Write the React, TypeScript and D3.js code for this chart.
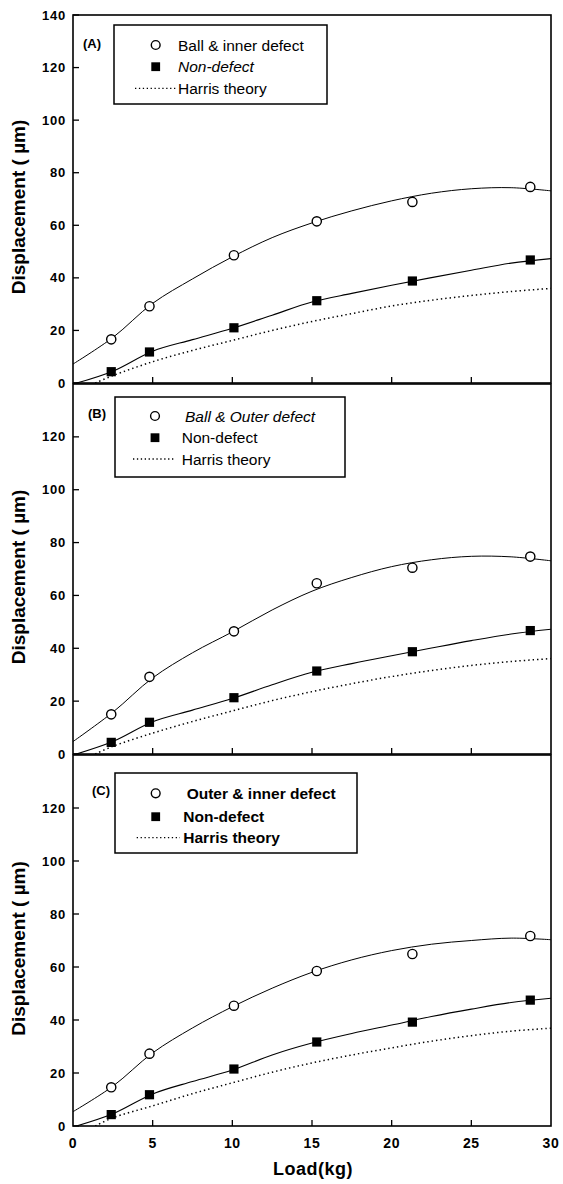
import React from "react";
import * as d3 from "d3";

// Loads (kg) at which displacement was measured
const loads = [2.4, 4.8, 10.1, 15.3, 21.3, 28.7];

// Measured displacement (µm)
const ballInnerDefect = [16.6, 29.2, 48.6, 61.5, 68.9, 74.6];
const nonDefectA = [4.3, 11.8, 21.0, 31.3, 38.8, 46.8];
const ballOuterDefect = [15.0, 29.2, 46.4, 64.6, 70.5, 74.7];
const nonDefectB = [4.4, 12.0, 21.3, 31.4, 38.7, 46.7];
const outerInnerDefect = [14.6, 27.3, 45.4, 58.5, 64.9, 71.7];
const nonDefectC = [4.3, 11.8, 21.5, 31.7, 39.2, 47.5];

// Fitted curves, sampled along the load axis
const fitLoads = [0, 2.5, 5, 7.5, 10, 12.5, 15, 17.5, 20, 22.5, 25, 27.5, 30];
const fitBallInner = [7.2, 17.3, 30.3, 39.6, 48.0, 55.3, 60.9, 65.5, 69.3, 72.2, 73.9, 74.3, 73.1];
const fitNonA = [-0.4, 4.5, 12.1, 16.5, 20.8, 25.8, 30.8, 34.1, 37.2, 40.1, 42.9, 45.6, 47.3];
const fitBallOuter = [4.7, 15.8, 28.8, 38.3, 46.2, 54.5, 61.6, 66.8, 70.9, 73.5, 74.8, 74.6, 73.1];
const fitNonB = [-0.4, 4.7, 12.2, 16.6, 21.0, 26.2, 30.9, 34.2, 37.2, 40.1, 42.9, 45.4, 47.2];
const fitOuterInner = [5.4, 15.0, 27.6, 37.0, 45.0, 52.0, 58.0, 62.7, 66.2, 68.6, 70.0, 70.9, 70.3];
const fitNonC = [-0.4, 4.6, 12.1, 16.8, 21.1, 26.8, 31.3, 34.9, 38.1, 41.3, 44.1, 46.6, 48.2];

// Harris theory prediction
const harrisLoads = [1.4, 2.5, 5, 7.5, 10, 12.5, 15, 17.5, 20, 22.5, 25, 27.5, 30];
const harrisA = [0, 2.8, 8.1, 12.4, 16.2, 20.0, 23.4, 26.4, 29.3, 31.5, 33.3, 34.8, 36.0];
const harrisB = [0, 2.9, 7.9, 12.3, 16.3, 20.2, 23.6, 26.6, 29.3, 31.6, 33.5, 35.0, 36.1];
const harrisC = [0, 3.1, 7.6, 12.2, 16.3, 20.3, 23.8, 26.8, 29.5, 32.0, 34.1, 35.8, 36.9];

// Axis ticks
const xTicks = [0, 5, 10, 15, 20, 25, 30];
const yTicks = [0, 20, 40, 60, 80, 100, 120, 140];

const tags = ["(A)", "(B)", "(C)"];
const defectLabels = ["Ball & inner defect", "Ball & Outer defect", "Outer & inner defect"];
const nonDefectLabel = "Non-defect";
const harrisLabel = "Harris theory";

const FONT = "'Liberation Sans', Arial, Helvetica, sans-serif";
const plotLeft = 73;
const plotRight = 551;

// panel frames and legend layout
const frames = [
  { top: 15, bottom: 383 },
  { top: 384, bottom: 754 },
  { top: 755, bottom: 1126 },
];
const legends = [
  { x0: 114, x1: 327, y0: 25, y1: 104, tagX: 83, tagY: 43, rows: [45, 66.7, 88.3], mx: 155.7, tx: [178, 178, 178], lx0: 135, lx1: 177, styles: ["normal", "italic", "normal"] },
  { x0: 115, x1: 345, y0: 397, y1: 477, tagX: 88, tagY: 413, rows: [416, 437.7, 459], mx: 155, tx: [185, 181.7, 181.7], lx0: 133, lx1: 175, styles: ["italic", "normal", "normal"] },
  { x0: 115, x1: 357, y0: 773, y1: 853, tagX: 92, tagY: 790, rows: [793.3, 816.7, 837.7], mx: 155.7, tx: [186.7, 183.3, 183.3], lx0: 136.7, lx1: 180, styles: ["normal", "normal", "normal"] },
];

const panelData = [
  { defect: ballInnerDefect, non: nonDefectA, fitD: fitBallInner, fitN: fitNonA, harris: harrisA },
  { defect: ballOuterDefect, non: nonDefectB, fitD: fitBallOuter, fitN: fitNonB, harris: harrisB },
  { defect: outerInnerDefect, non: nonDefectC, fitD: fitOuterInner, fitN: fitNonC, harris: harrisC },
];

export default function App() {
  const x = d3.scaleLinear().domain([0, 30]).range([plotLeft, plotRight]);

  return (
    <svg width={563} height={1184} style={{ display: "block", position: "absolute", left: 0, top: 0, background: "#fff" }}>
      <rect x={0} y={0} width={563} height={1184} fill="#fff" />
      {panelData.map((p, i) => {
        const f = frames[i];
        const lg = legends[i];
        const y = d3.scaleLinear().domain([0, 140]).range([f.bottom, f.top]);
        const line = d3
          .line<number>()
          .x((_, k) => x(fitLoads[k]))
          .y((v) => y(v))
          .curve(d3.curveCatmullRom);
        const hLine = d3
          .line<number>()
          .x((_, k) => x(harrisLoads[k]))
          .y((v) => y(v))
          .curve(d3.curveCatmullRom);
        const clipId = `clip-${i}`;
        const showTicks = i === 0 ? yTicks : yTicks.slice(0, -1);
        const midY = (f.top + f.bottom) / 2 + 8;
        return (
          <g key={i}>
            <defs>
              <clipPath id={clipId}>
                <rect x={plotLeft} y={f.top} width={plotRight - plotLeft} height={f.bottom - f.top} />
              </clipPath>
            </defs>
            {/* curves */}
            <g clipPath={`url(#${clipId})`} fill="none" stroke="#000">
              <path d={line(p.fitD) || ""} strokeWidth={1} />
              <path d={line(p.fitN) || ""} strokeWidth={1.1} />
              <path d={hLine(p.harris) || ""} strokeWidth={1.5} strokeDasharray="1.4,3" />
            </g>
            {/* markers */}
            {p.defect.map((v, k) => (
              <circle key={`c${k}`} cx={x(loads[k])} cy={y(v)} r={4.6} fill="#fff" stroke="#000" strokeWidth={1.4} />
            ))}
            {p.non.map((v, k) => (
              <rect key={`s${k}`} x={x(loads[k]) - 4.6} y={y(v) - 4.6} width={9.2} height={9.2} fill="#000" />
            ))}
            {/* frame */}
            <rect x={plotLeft} y={f.top} width={plotRight - plotLeft} height={f.bottom - f.top} fill="none" stroke="#000" strokeWidth={1.6} />
            {/* y ticks */}
            {showTicks.map((t) => (
              <g key={`yt${t}`}>
                <line x1={plotLeft} x2={plotLeft + 6} y1={y(t)} y2={y(t)} stroke="#000" strokeWidth={1.3} />
                <text x={66} y={y(t)} textAnchor="end" dominantBaseline="central" fontFamily={FONT} fontWeight="bold" fontSize={13} letterSpacing={0.8}>
                  {t}
                </text>
              </g>
            ))}
            {/* x ticks */}
            {xTicks.slice(1, -1).map((t) => (
              <line key={`xt${t}`} x1={x(t)} x2={x(t)} y1={f.bottom} y2={f.bottom - 6} stroke="#000" strokeWidth={1.3} />
            ))}
            {/* y title */}
            <text
              transform={`translate(25,${midY}) rotate(-90)`}
              textAnchor="middle"
              fontFamily={FONT}
              fontWeight="bold"
              fontSize={19}
            >
              {"Displacement (  \u00b5m)"}
            </text>
            {/* legend */}
            <rect x={lg.x0} y={lg.y0} width={lg.x1 - lg.x0} height={lg.y1 - lg.y0} fill="#fff" stroke="#000" strokeWidth={1.5} />
            <text x={lg.tagX} y={lg.tagY} dominantBaseline="central" fontFamily={FONT} fontWeight="bold" fontSize={13}>
              {tags[i]}
            </text>
            <circle cx={lg.mx} cy={lg.rows[0]} r={4.4} fill="#fff" stroke="#000" strokeWidth={1.4} />
            <rect x={lg.mx - 4.4} y={lg.rows[1] - 4.4} width={8.8} height={8.8} fill="#000" />
            <line x1={lg.lx0} x2={lg.lx1} y1={lg.rows[2]} y2={lg.rows[2]} stroke="#000" strokeWidth={1.3} strokeDasharray="1.3,2.6" />
            {[defectLabels[i], nonDefectLabel, harrisLabel].map((s, k) => (
              <text
                key={`lt${k}`}
                x={lg.tx[k]}
                y={lg.rows[k]}
                dominantBaseline="central"
                fontFamily={FONT}
                fontSize={15.5}
                fontStyle={lg.styles[k]}
                fontWeight={i === 2 ? 600 : "normal"}
              >
                {s}
              </text>
            ))}
          </g>
        );
      })}
      {/* bottom x labels */}
      {xTicks.map((t) => (
        <text key={`xl${t}`} x={x(t)} y={1143} textAnchor="middle" dominantBaseline="central" fontFamily={FONT} fontWeight="bold" fontSize={14} letterSpacing={0.6}>
          {t}
        </text>
      ))}
      <text x={313} y={1169} textAnchor="middle" dominantBaseline="central" fontFamily={FONT} fontWeight="bold" fontSize={18} letterSpacing={0.5}>
        Load(kg)
      </text>
    </svg>
  );
}
